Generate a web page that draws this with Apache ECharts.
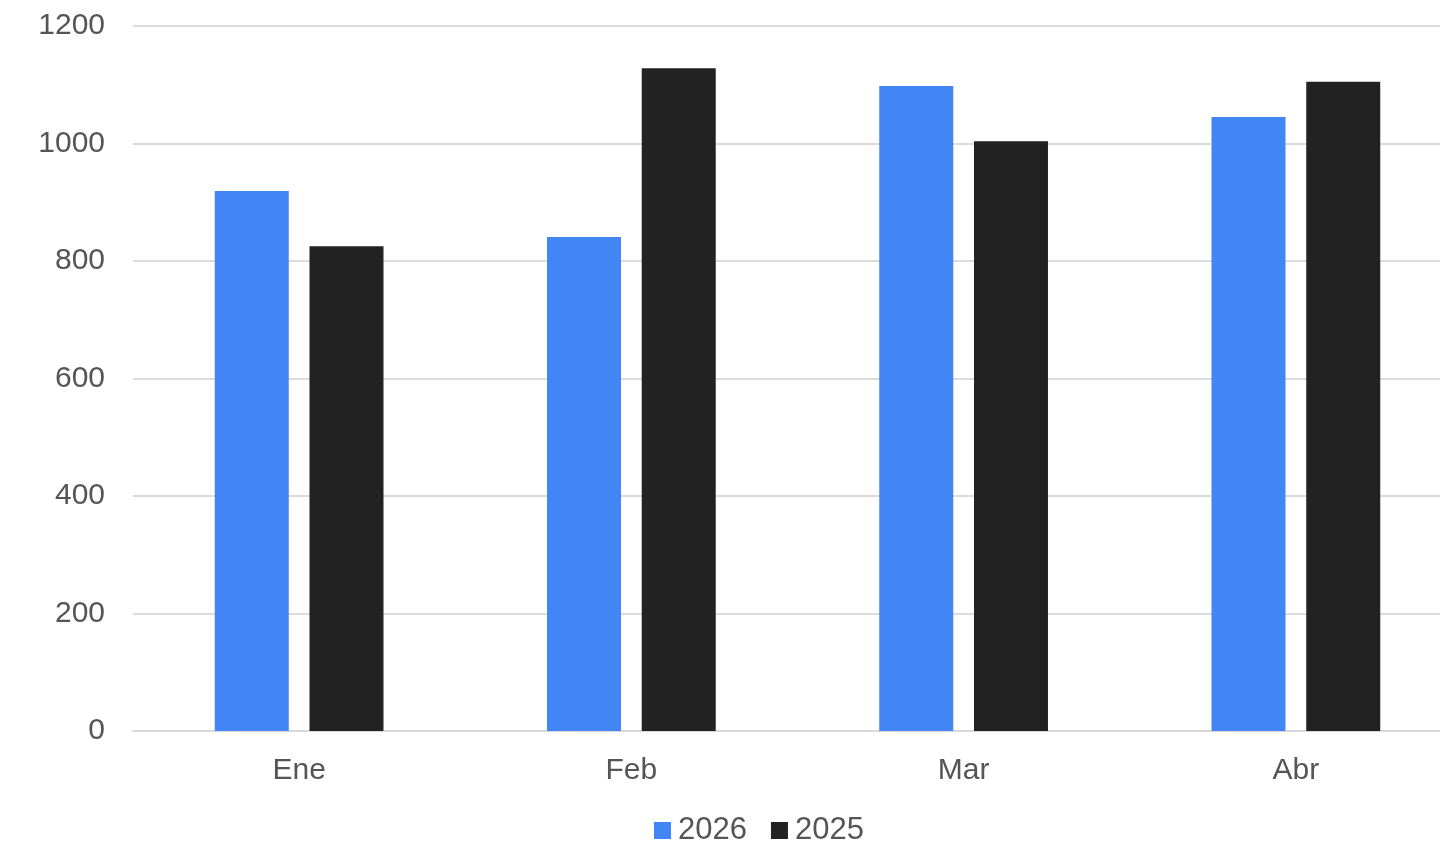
<!DOCTYPE html>
<html>
<head>
<meta charset="utf-8">
<script src="https://cdn.jsdelivr.net/npm/echarts@6/dist/echarts.min.js"></script>
<style>html,body{margin:0;padding:0;background:#fff;}#c{width:1440px;height:844px;}</style>
</head>
<body>
<div id="c"></div>
<script>
const categories = ['Ene', 'Feb', 'Mar', 'Abr'];
const series2026 = [919, 841, 1098, 1045];
const series2025 = [825, 1128, 1004, 1105];
const seriesNames = ['2026', '2025'];
const yTicks = [0, 200, 400, 600, 800, 1000, 1200];

const chart = echarts.init(document.getElementById('c'));
chart.setOption({
  animation: false,
  backgroundColor: '#ffffff',
  textStyle: { fontFamily: 'Liberation Sans, Arial, sans-serif' },
  grid: { left: 133, width: 1329, top: 26, bottom: 113, containLabel: false, outerBoundsMode: 'none' },
  legend: {
    data: seriesNames,
    bottom: -2,
    left: 654,
    padding: 0,
    icon: 'rect',
    itemWidth: 17,
    itemHeight: 17,
    itemGap: 24,
    itemStyle: { borderWidth: 0 },
    textStyle: { fontSize: 31, color: '#555555', fontFamily: 'Liberation Sans, Arial, sans-serif', padding: [0, 0, 0, 2] }
  },
  xAxis: {
    type: 'category',
    data: categories,
    axisLine: { show: true, lineStyle: { color: '#d9d9d9', width: 2 } },
    axisTick: { show: false },
    axisLabel: { fontSize: 30, color: '#555555', margin: 25 }
  },
  yAxis: {
    type: 'value',
    min: yTicks[0],
    max: yTicks[yTicks.length - 1],
    interval: 200,
    axisLine: { show: false },
    axisTick: { show: false },
    axisLabel: { fontSize: 30, color: '#555555', margin: 28, formatter: v => String(v) },
    splitLine: { lineStyle: { color: '#dcdcdc', width: 2 } }
  },
  series: [
    { name: seriesNames[0], type: 'bar', data: series2026, barWidth: 74, barGap: '28%', itemStyle: { color: '#4285f4' } },
    { name: seriesNames[1], type: 'bar', data: series2025, barWidth: 74, itemStyle: { color: '#222222' } }
  ]
});
</script>
</body>
</html>
